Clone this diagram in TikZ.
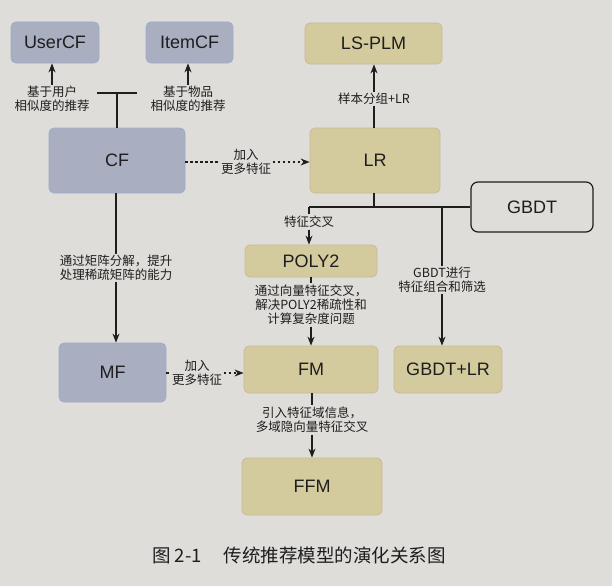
\documentclass[tikz,border=0pt]{standalone}
\usepackage{fontspec}
\setmainfont{Liberation Sans}
\newfontfamily\cjk{Noto Sans CJK SC}
\usetikzlibrary{arrows.meta,calc}
\definecolor{bg}{HTML}{DEDDD9}
\definecolor{bluefill}{HTML}{A9AEC0}
\definecolor{blueline}{HTML}{9DADCB}
\definecolor{yelfill}{HTML}{D3CB9E}
\definecolor{yelline}{HTML}{CDB896}
\definecolor{ink}{HTML}{1E1E1E}
\tikzset{
  box/.style={rounded corners=5pt, line width=0.8pt, font=\fontsize{18}{21}\selectfont, text=ink, inner sep=0pt},
  bluebox/.style={box, fill=bluefill, draw=blueline},
  yelbox/.style={box, fill=yelfill, draw=yelline},
  whitebox/.style={box, fill=bg, draw=ink, line width=1.2pt, rounded corners=7pt},
  lab/.style={font=\cjk\fontsize{12.5}{14}\selectfont, align=center, text=ink, inner sep=1.5pt, fill=bg},
  conn/.style={draw=ink, line width=1.2pt},
  tip/.style={-{Stealth[length=9pt,width=7pt]}},
  arr/.style={conn, tip},
  dots/.style={conn, dash pattern=on 2.5pt off 2.5pt},
}
\begin{document}
\begin{tikzpicture}[x=1pt,y=-1pt]
\fill[bg] (0,0) rectangle (612,586);
\useasboundingbox (0,0) rectangle (612,586);
% boxes
\node[bluebox, minimum width=88pt, minimum height=41pt] (usercf) at (55,42.5) {UserCF};
\node[bluebox, minimum width=87pt, minimum height=41pt] (itemcf) at (189.5,42.5) {ItemCF};
\node[bluebox, minimum width=136pt, minimum height=65pt] (cf) at (117,160.5) {CF};
\node[bluebox, minimum width=107pt, minimum height=59pt] (mf) at (112.5,372.5) {MF};
\node[yelbox, minimum width=137pt, minimum height=41pt] (lsplm) at (373.5,43.5) {LS-PLM};
\node[yelbox, minimum width=130pt, minimum height=65pt] (lr) at (375,160.5) {LR};
\node[whitebox, minimum width=122pt, minimum height=50pt] (gbdt) at (532,207) {GBDT};
\node[yelbox, minimum width=132pt, minimum height=32pt] (poly2) at (311,261) {POLY2};
\node[yelbox, minimum width=134pt, minimum height=47pt] (fm) at (311,369.5) {FM};
\node[yelbox, minimum width=108pt, minimum height=47pt] (gbdtlr) at (448,369.5) {GBDT+LR};
\node[yelbox, minimum width=140pt, minimum height=57pt] (ffm) at (312,486.5) {FFM};
% CF -> UserCF / ItemCF
\node[lab] (ulab) at (52,99) {基于用户\\相似度的推荐};
\node[lab] (ilab) at (188,99) {基于物品\\相似度的推荐};
\draw[arr] (ulab.north) -- (ulab.north |- usercf.south);
\draw[arr] (ilab.north) -- (ilab.north |- itemcf.south);
\coordinate (tb) at (117,93);
\coordinate (tbl) at (97,93);
\coordinate (tbr) at (137,93);
\draw[conn] (tbl) -- (tbr);
\draw[conn] (tb) -- (cf.north);
% CF -> LR dotted
\node[lab] (add1) at (246,162) {加入\\更多特征};
\draw[dots] (cf.east |- add1) -- (add1.west);
\draw[dots, tip] (add1.east) -- (lr.west |- add1);
% LR -> LS-PLM
\node[lab] (grp) at (374,99) {样本分组+LR};
\draw[conn] (lr.north -| grp) -- (grp.south);
\draw[arr] (grp.north) -- (lsplm.south -| grp);
% LR -> junction
\coordinate (j0) at (374,207);
\coordinate (jl) at (309,207);
\coordinate (jr) at (442,207);
\draw[conn] (lr.south -| j0) -- (j0);
\draw[conn] (jl) -- (gbdt.west |- jl);
% -> POLY2
\node[lab] (cross) at (309,222) {特征交叉};
\draw[conn] (jl) -- (cross.north);
\draw[arr] (cross.south) -- (poly2.north -| cross);
% -> GBDT+LR
\node[lab] (gsel) at (442,280) {GBDT进行\\特征组合和筛选};
\draw[conn] (jr) -- (gsel.north);
\draw[arr] (gsel.south) -- (gbdtlr.north -| gsel);
% POLY2 -> FM
\node[lab] (vec) at (311,305) {通过向量特征交叉，\\解决POLY2稀疏性和\\计算复杂度问题};
\draw[conn] (poly2.south) -- (vec.north);
\draw[arr] (vec.south) -- (fm.north);
% CF -> MF
\node[lab] (mat) at (116,268) {通过矩阵分解，提升\\处理稀疏矩阵的能力};
\draw[conn] (cf.south -| mat) -- (mat.north);
\draw[arr] (mat.south) -- (mf.north -| mat);
% MF -> FM dotted
\node[lab] (add2) at (197,373) {加入\\更多特征};
\draw[dots] (mf.east |- add2) -- (add2.west);
\draw[dots, tip] (add2.east) -- (fm.west |- add2);
% FM -> FFM
\node[lab] (field) at (312,420) {引入特征域信息，\\多域隐向量特征交叉};
\draw[conn] (fm.south -| field) -- (field.north);
\draw[arr] (field.south) -- (ffm.north -| field);
% caption
\node[anchor=west, font=\cjk\fontsize{18.5}{22}\selectfont, text=ink, inner sep=0pt] (cap) at (152,555) {图 2-1\hspace{22pt}传统推荐模型的演化关系图};
\end{tikzpicture}
\end{document}
